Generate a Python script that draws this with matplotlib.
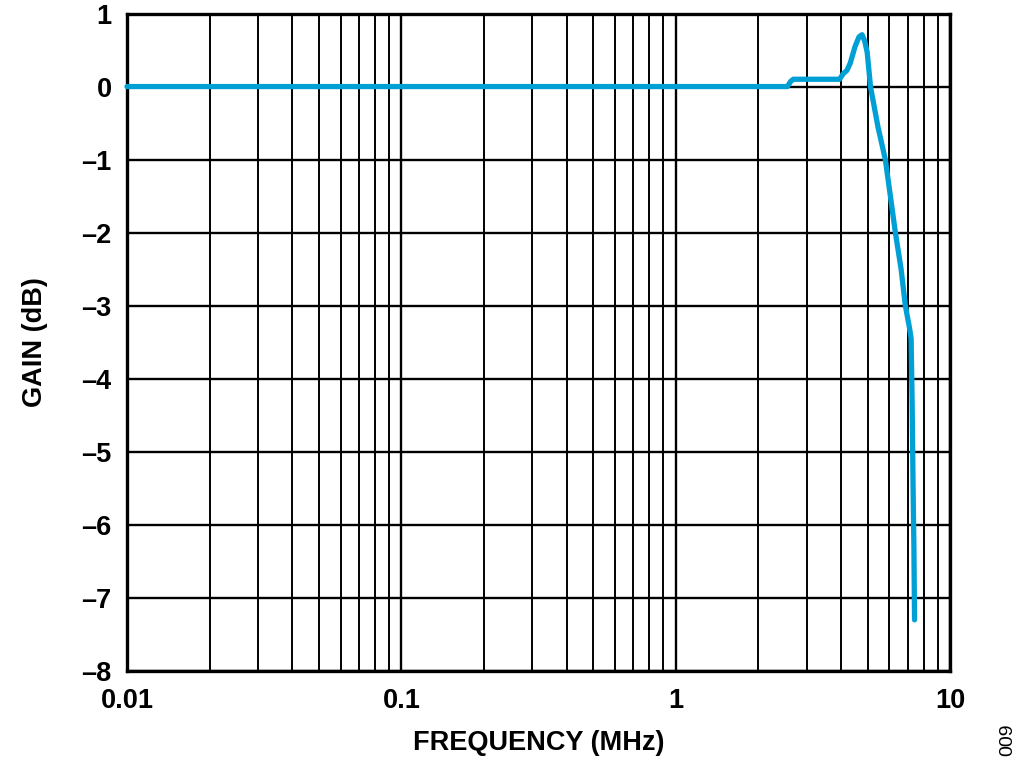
import numpy as np
import matplotlib
matplotlib.use("Agg")
import matplotlib.pyplot as plt
from matplotlib.ticker import FixedLocator, FixedFormatter, NullFormatter

# data (MHz, dB)
freq_mhz = [0.01, 2.55, 2.62, 2.68, 3.95, 4.08, 4.20, 4.32, 4.50, 4.65, 4.77,
            4.88, 4.98, 5.12, 5.45, 5.80, 6.05, 6.31, 6.62, 6.86, 7.10,
            7.20, 7.26, 7.32, 7.37, 7.41]
gain_db = [0.0, 0.0, 0.07, 0.1, 0.1, 0.18, 0.22, 0.32, 0.55, 0.68, 0.71,
           0.62, 0.47, 0.0, -0.55, -1.0, -1.5, -2.0, -2.5, -3.0, -3.3,
           -3.45, -4.3, -5.5, -6.3, -7.3]

x_ticks = [0.01, 0.1, 1, 10]
x_labels = ["0.01", "0.1", "1", "10"]
y_ticks = [1, 0, -1, -2, -3, -4, -5, -6, -7, -8]
y_labels = ["1", "0", "–1", "–2", "–3", "–4", "–5", "–6", "–7", "–8"]

plt.rcParams['font.family'] = ['Liberation Sans', 'DejaVu Sans']
plt.rcParams['font.weight'] = 'bold'

fig = plt.figure(figsize=(10.24, 7.63), dpi=100)
ax = fig.add_axes([0.124, 0.1206, 0.804, 0.8617])

ax.set_xscale('log')
ax.set_xlim(0.01, 10)
ax.set_ylim(-8, 1)

ax.xaxis.set_major_locator(FixedLocator(x_ticks))
ax.xaxis.set_major_formatter(FixedFormatter(x_labels))
minors = [m * 10.0 ** d for d in range(-2, 1) for m in range(2, 10)]
ax.xaxis.set_minor_locator(FixedLocator(minors))
ax.xaxis.set_minor_formatter(NullFormatter())
ax.yaxis.set_major_locator(FixedLocator(y_ticks))
ax.yaxis.set_major_formatter(FixedFormatter(y_labels))

ax.grid(which='major', color='black', linewidth=1.7)
ax.grid(which='minor', axis='x', color='black', linewidth=1.4)
ax.set_axisbelow(True)

ax.tick_params(which='both', length=0)
ax.tick_params(axis='x', pad=12, labelsize=19.5)
ax.tick_params(axis='y', pad=11, labelsize=19.5)

for s in ax.spines.values():
    s.set_linewidth(2.4)
    s.set_color('black')

ax.plot(freq_mhz, gain_db, color='#00a0d6', linewidth=3.8,
        solid_capstyle='round', solid_joinstyle='round', clip_on=False, zorder=5)

ax.set_xlabel("FREQUENCY (MHz)", fontsize=19.5, fontweight='bold', labelpad=12)
ax.set_ylabel("GAIN (dB)", fontsize=19.5, fontweight='bold', labelpad=24)

fig.text(0.984, 0.030, "009", rotation=90, fontsize=14, fontweight='normal',
         ha='center', va='center')

fig.savefig("out.png", dpi=100)
